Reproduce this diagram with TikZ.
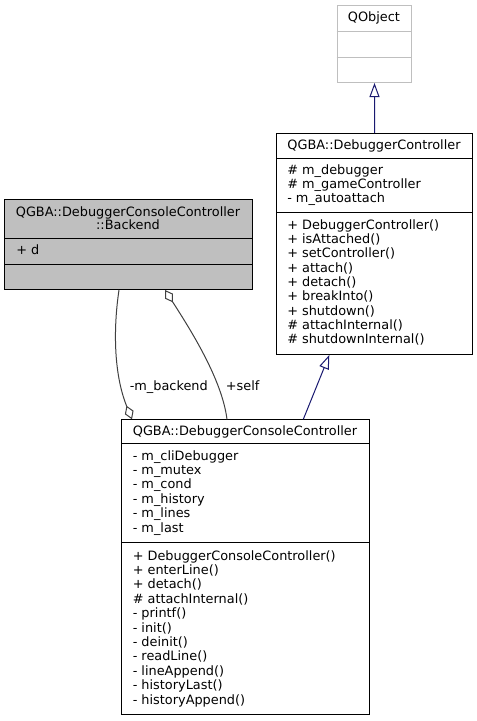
\documentclass[tikz,border=0pt]{standalone}
\usepackage{fontspec}
\setmainfont{DejaVu Sans}
\usetikzlibrary{arrows.meta}
\definecolor{inhcol}{HTML}{191970}
\definecolor{aggcol}{HTML}{404040}
\definecolor{extcol}{HTML}{BFBFBF}
\definecolor{bkfill}{HTML}{BFBFBF}
\begin{document}
\begin{tikzpicture}[x=0.75pt,y=-0.75pt,
  every node/.style={font=\fontsize{9.65}{11}\selectfont, inner sep=0pt},
  umlbox/.style={draw, line width=0.75pt, anchor=north west, inner sep=0pt},
  divider/.style={line width=0.75pt},
  ln/.style={anchor=base west},
  hd/.style={anchor=base},
  inh/.style={draw=inhcol, line width=0.75pt, -{Triangle[open,length=10.5pt,width=7.5pt]}},
  agg/.style={draw=aggcol, line width=0.75pt, -{Diamond[open,length=11pt,width=7pt]}},
]
\useasboundingbox (0,0) rectangle (477,721);

% QObject
\node[umlbox, draw=extcol, minimum width=55.95pt, minimum height=57.75pt] (qo) at (336.7,5) {};
\draw[divider, extcol] (qo.west |- 0,31) -- (qo.east |- 0,31);
\draw[divider, extcol] (qo.west |- 0,57) -- (qo.east |- 0,57);
\node[hd] (qot) at (374,21.7) {QObject};

% DebuggerController
\node[umlbox, minimum width=147pt, minimum height=165.75pt] (dc) at (276,133) {};
\draw[divider] (dc.west |- 0,158) -- (dc.east |- 0,158);
\draw[divider] (dc.west |- 0,212) -- (dc.east |- 0,212);
\node[hd] (dct) at (374,149) {QGBA::DebuggerController};
\foreach \t [count=\i] in {\# m\_debugger, \# m\_gameController, - m\_autoattach}
  \node[ln] (dca\i) at (287,{174.3+(\i-1)*14.3}) {\t};
\foreach \t [count=\i] in {+ DebuggerController(), + isAttached(), + setController(), + attach(), + detach(), + breakInto(), + shutdown(), \# attachInternal(), \# shutdownInternal()}
  \node[ln] (dcm\i) at (287,{229+(\i-1)*14.35}) {\t};

% Backend
\node[umlbox, fill=bkfill, minimum width=185.55pt, minimum height=67.5pt] (bk) at (4.3,199) {};
\draw[divider] (bk.west |- 0,238.3) -- (bk.east |- 0,238.3);
\draw[divider] (bk.west |- 0,264) -- (bk.east |- 0,264);
\node[hd] (bkt1) at (128,216) {QGBA::DebuggerConsoleController};
\node[hd] (bkt2) at (128,229) {::Backend};
\node[ln] (bka1) at (16,254) {+ d};

% DebuggerConsoleController
\node[umlbox, minimum width=186pt, minimum height=221pt] (dcc) at (121,419.3) {};
\draw[divider] (dcc.west |- 0,443.3) -- (dcc.east |- 0,443.3);
\draw[divider] (dcc.west |- 0,542.7) -- (dcc.east |- 0,542.7);
\node[hd] (dcct) at (245,435) {QGBA::DebuggerConsoleController};
\foreach \t [count=\i] in {- m\_cliDebugger, - m\_mutex, - m\_cond, - m\_history, - m\_lines, - m\_last}
  \node[ln] (dcca\i) at (132.5,{460+(\i-1)*14.4}) {\t};
\foreach \t [count=\i] in {+ DebuggerConsoleController(), + enterLine(), + detach(), \# attachInternal(), - printf(), - init(), - deinit(), - readLine(), - lineAppend(), - historyLast(), - historyAppend()}
  \node[ln] (dccm\i) at (132.5,{560+(\i-1)*14.4}) {\t};

% Edges
\draw[inh] (dc.north) -- (qo.south);
\draw[inh] (303.3,0 |- dcc.north) -- (329.3,0 |- dc.south);
\draw[agg] (119,0 |- bk.south) .. controls (113,330) and (114,375) .. (132,0 |- dcc.north);
\draw[agg] (227,0 |- dcc.north) .. controls (222,380) and (192,332) .. (165,0 |- bk.south);
\node[hd] (lbl1) at (168.8,390) {-m\_backend};
\node[hd] (lbl2) at (242.7,390) {+self};
\end{tikzpicture}
\end{document}
